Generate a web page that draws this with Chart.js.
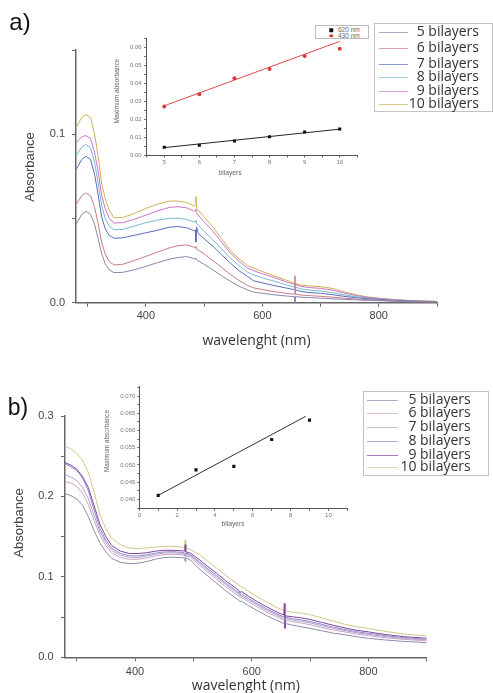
<!DOCTYPE html>
<html><head><meta charset="utf-8">
<script src="https://cdn.jsdelivr.net/npm/chart.js@4.4.1/dist/chart.umd.min.js"></script>
<style>
body{margin:0;background:#fff;}
#wrap{position:relative;width:493px;height:693px;overflow:hidden;background:#fff;}
canvas{position:absolute;}
.t{position:absolute;white-space:nowrap;color:#444;font-family:'Liberation Sans',Arial,sans-serif;line-height:1;}
.rot{transform:translate(-50%,-50%) rotate(-90deg);}
.ctr{transform:translate(-50%,-50%);}
.lg{position:absolute;border:1px solid #c4c4c4;background:#fff;box-sizing:border-box;}
.lg .ln{position:absolute;height:0;border-top:1px solid;}
.lg .tx{position:absolute;font-family:'Open Sans',sans-serif;font-size:14px;color:#333;transform:translateY(-50%);line-height:1;white-space:nowrap;}
.ilg{position:absolute;border:1px solid #bbb;background:#fff;box-sizing:border-box;}
.ilg .it{position:absolute;font-family:'Liberation Sans',Arial,sans-serif;font-size:6.5px;color:#666;line-height:1;transform:translateY(-50%);white-space:nowrap;}
.ilg .mk{position:absolute;transform:translate(-50%,-50%);}
</style></head>
<body>
<div id="wrap">
  <canvas id="mainA" width="493" height="360" style="left:0;top:0"></canvas>
  <canvas id="insetA" width="270" height="160" style="left:100px;top:20px"></canvas>
  <canvas id="mainB" width="493" height="333" style="left:0;top:360px"></canvas>
  <canvas id="insetB" width="270" height="150" style="left:95px;top:375px"></canvas>

  <div class="t ctr" style="left:20px;top:21.5px;font-size:24px;color:#111">a)</div>
  <div class="t ctr" style="left:18px;top:407px;font-size:23px;color:#111">b)</div>

  <div class="t rot" style="left:29px;top:167px;font-size:13px">Absorbance</div>
  <div class="t rot" style="left:18px;top:523px;font-size:13px">Absorbance</div>

  <div class="t rot" style="left:117px;top:91px;font-size:6.6px;color:#666">Maximum absorbance</div>
  <div class="t ctr" style="left:230px;top:173px;font-size:6.7px;color:#666">bilayers</div>
  <div class="t rot" style="left:107px;top:441px;font-size:6.3px;color:#666">Maximum absorbance</div>
  <div class="t ctr" style="left:233px;top:524px;font-size:6.7px;color:#666">bilayers</div>

  <div id="legA" class="lg" style="left:374px;top:23px;width:119px;height:89px"></div>
  <div id="legB" class="lg" style="left:363px;top:391px;width:126px;height:85px"></div>
  <div id="ilegA" class="ilg" style="left:315px;top:25px;width:54px;height:14px"></div>
</div>
<script>
// ---------- data ----------
const seriesNames = ['5 bilayers','6 bilayers','7 bilayers','8 bilayers','9 bilayers','10 bilayers'];

// panel a spectra
const wlA = [280, 290, 297, 305, 312, 318, 324, 330, 337, 345, 360, 380, 400, 420, 440, 455, 470, 482, 485, 486, 487, 490, 500, 515, 530, 545, 560, 575, 585, 600, 620, 640, 655, 656, 657, 665, 680, 700, 720, 740, 760, 780, 800, 830, 860, 900];
const a5 = [0.0463, 0.0525, 0.0542, 0.0525, 0.0465, 0.038, 0.029, 0.0232, 0.0195, 0.0179, 0.018, 0.0195, 0.0215, 0.0238, 0.0258, 0.0268, 0.0274, 0.0262, 0.026, 0.0265, 0.0255, 0.0248, 0.0228, 0.0195, 0.016, 0.0127, 0.0098, 0.0075, 0.0063, 0.0056, 0.0047, 0.004, 0.0036, 0.0, 0.0036, 0.0033, 0.003, 0.0027, 0.0023, 0.002, 0.0017, 0.0014, 0.0012, 0.0008, 0.0005, 0.0003];
const a6 = [0.0582, 0.0635, 0.0651, 0.0635, 0.0565, 0.047, 0.036, 0.029, 0.0245, 0.0224, 0.0228, 0.025, 0.0275, 0.030, 0.0325, 0.0338, 0.0343, 0.033, 0.0325, 0.0335, 0.032, 0.0312, 0.029, 0.025, 0.021, 0.0168, 0.0132, 0.0102, 0.0088, 0.0078, 0.0066, 0.0056, 0.005, 0.016, 0.005, 0.0046, 0.0042, 0.0038, 0.0033, 0.0027, 0.0022, 0.0018, 0.0015, 0.001, 0.0007, 0.0004];
const a7 = [0.079, 0.085, 0.0869, 0.085, 0.076, 0.064, 0.051, 0.044, 0.040, 0.0383, 0.0385, 0.040, 0.0415, 0.043, 0.0448, 0.0452, 0.0445, 0.0428, 0.043, 0.036, 0.045, 0.041, 0.038, 0.0335, 0.0285, 0.0235, 0.019, 0.0155, 0.013, 0.0118, 0.0102, 0.0088, 0.0077, 0.0077, 0.0077, 0.0068, 0.006, 0.0056, 0.0048, 0.0038, 0.003, 0.0024, 0.0019, 0.0013, 0.0009, 0.0005];
const a8 = [0.0869, 0.0925, 0.0939, 0.092, 0.083, 0.071, 0.058, 0.050, 0.0455, 0.0433, 0.0435, 0.0455, 0.0475, 0.049, 0.050, 0.0502, 0.0495, 0.048, 0.048, 0.049, 0.047, 0.046, 0.0425, 0.0375, 0.032, 0.0265, 0.022, 0.018, 0.0165, 0.0148, 0.0128, 0.0107, 0.0092, 0.0092, 0.0092, 0.0083, 0.0075, 0.007, 0.006, 0.0047, 0.0036, 0.0028, 0.0022, 0.0015, 0.001, 0.0006];
const a9 = [0.0949, 0.0985, 0.0992, 0.0975, 0.089, 0.078, 0.064, 0.056, 0.050, 0.0473, 0.0475, 0.0495, 0.052, 0.0545, 0.0565, 0.057, 0.0563, 0.0545, 0.0545, 0.0555, 0.0535, 0.052, 0.048, 0.0425, 0.036, 0.0295, 0.0245, 0.0205, 0.019, 0.0172, 0.015, 0.0125, 0.0108, 0.0108, 0.0108, 0.0098, 0.009, 0.0085, 0.0075, 0.0058, 0.0043, 0.0032, 0.0025, 0.0016, 0.0011, 0.0007];
const a10 = [0.104, 0.110, 0.1117, 0.110, 0.100, 0.087, 0.071, 0.062, 0.055, 0.0505, 0.0505, 0.053, 0.056, 0.0585, 0.0603, 0.0603, 0.0595, 0.0575, 0.058, 0.063, 0.056, 0.055, 0.051, 0.045, 0.038, 0.031, 0.026, 0.022, 0.0205, 0.0185, 0.016, 0.0135, 0.0115, 0.0115, 0.0115, 0.0105, 0.0100, 0.0095, 0.0085, 0.0065, 0.0048, 0.0035, 0.0027, 0.0018, 0.0012, 0.0008];

// panel b spectra
const wlB = [280, 290, 300, 310, 320, 330, 340, 350, 360, 375, 390, 405, 420, 435, 450, 465, 480, 485, 486, 487, 495, 510, 525, 540, 555, 570, 578, 580, 582, 595, 610, 625, 640, 655, 656, 657, 658, 670, 685, 700, 720, 740, 760, 780, 800, 830, 860, 900];
const b5 = [0.2034, 0.201, 0.197, 0.189, 0.175, 0.157, 0.142, 0.131, 0.123, 0.118, 0.1165, 0.117, 0.119, 0.122, 0.124, 0.1245, 0.124, 0.1235, 0.119, 0.1235, 0.121, 0.110, 0.101, 0.092, 0.083, 0.075, 0.071, 0.069, 0.070, 0.064, 0.058, 0.052, 0.047, 0.042, 0.042, 0.042, 0.042, 0.040, 0.038, 0.036, 0.033, 0.030, 0.028, 0.0255, 0.0236, 0.0215, 0.0198, 0.0182];
const b6 = [0.2187, 0.2167, 0.2124, 0.2041, 0.1899, 0.170, 0.1515, 0.1388, 0.1298, 0.124, 0.1218, 0.1219, 0.1236, 0.126, 0.1278, 0.1281, 0.1275, 0.1269, 0.1265, 0.1265, 0.1245, 0.1149, 0.1059, 0.0971, 0.0881, 0.0801, 0.076, 0.074, 0.075, 0.0689, 0.0626, 0.0566, 0.0513, 0.0463, 0.0463, 0.0462, 0.0461, 0.0443, 0.0426, 0.0406, 0.0373, 0.034, 0.0315, 0.0289, 0.0269, 0.0243, 0.0223, 0.0204];
const b7 = [0.227, 0.2242, 0.2198, 0.2114, 0.197, 0.1762, 0.156, 0.1426, 0.133, 0.1268, 0.1243, 0.1242, 0.1258, 0.128, 0.1296, 0.1299, 0.1292, 0.1285, 0.1285, 0.128, 0.1262, 0.1172, 0.1082, 0.0996, 0.0906, 0.0826, 0.0782, 0.0762, 0.077, 0.0712, 0.0648, 0.0588, 0.0534, 0.0484, 0.0484, 0.0483, 0.0482, 0.0464, 0.0448, 0.0428, 0.0394, 0.036, 0.0332, 0.0305, 0.0286, 0.0257, 0.0235, 0.0215];
const b8 = [0.2407, 0.237, 0.2323, 0.223, 0.207, 0.183, 0.160, 0.1455, 0.1355, 0.129, 0.1263, 0.126, 0.1275, 0.1295, 0.131, 0.1313, 0.1305, 0.1298, 0.125, 0.1295, 0.1275, 0.119, 0.110, 0.1015, 0.0925, 0.0845, 0.080, 0.078, 0.079, 0.073, 0.0665, 0.0605, 0.055, 0.050, 0.050, 0.050, 0.0499, 0.048, 0.0465, 0.0445, 0.041, 0.0375, 0.0345, 0.0318, 0.0298, 0.0268, 0.0244, 0.0224];
const b9 = [0.242, 0.239, 0.234, 0.225, 0.211, 0.188, 0.165, 0.150, 0.139, 0.132, 0.129, 0.129, 0.130, 0.132, 0.133, 0.133, 0.1325, 0.132, 0.140, 0.131, 0.1295, 0.1217, 0.1127, 0.1044, 0.0954, 0.0874, 0.083, 0.080, 0.082, 0.0757, 0.069, 0.063, 0.0574, 0.0524, 0.067, 0.036, 0.0515, 0.0504, 0.049, 0.047, 0.0434, 0.0398, 0.0365, 0.0336, 0.0316, 0.0283, 0.0258, 0.0236];
const b10 = [0.262, 0.259, 0.254, 0.245, 0.230, 0.205, 0.177, 0.160, 0.148, 0.140, 0.136, 0.135, 0.136, 0.137, 0.138, 0.138, 0.137, 0.136, 0.146, 0.136, 0.134, 0.128, 0.119, 0.111, 0.102, 0.094, 0.090, 0.088, 0.088, 0.082, 0.075, 0.069, 0.063, 0.058, 0.058, 0.058, 0.058, 0.056, 0.055, 0.053, 0.049, 0.045, 0.041, 0.038, 0.036, 0.032, 0.029, 0.0265];

// inset a
const bilayersA = [5, 6, 7, 8, 9, 10];
const max620 = [0.0043, 0.0054, 0.0078, 0.0102, 0.0128, 0.0145];
const max430 = [0.0270, 0.0339, 0.0428, 0.0479, 0.0551, 0.0592];
const fitXA = [5, 10];
const fit620 = [0.0041, 0.0144];
const fit430 = [0.0274, 0.0633];

// inset b
const bilayersB = [1, 3, 5, 7, 9];
const maxB = [0.0412, 0.0486, 0.0496, 0.0574, 0.0630];
const fitXB = [1, 8.8];
const fitB = [0.0412, 0.0641];

// ticks
const xTicksMain = [300, 400, 500, 600, 700, 800, 900];
const xLabelsMain = [400, 600, 800];
const yTicksA = [0, 0.05, 0.1, 0.15];
const yLabelsA = [0, 0.1];
const yTicksB = [0, 0.05, 0.1, 0.15, 0.2, 0.25, 0.3];
const yLabelsB = [0, 0.1, 0.2, 0.3];
const xTicksInA = [4.5, 5, 5.5, 6, 6.5, 7, 7.5, 8, 8.5, 9, 9.5, 10, 10.5];
const xLabelsInA = [5, 6, 7, 8, 9, 10];
const yTicksInA = [0, 0.005, 0.01, 0.015, 0.02, 0.025, 0.03, 0.035, 0.04, 0.045, 0.05, 0.055, 0.06, 0.065];
const yLabelsInA = [0, 0.01, 0.02, 0.03, 0.04, 0.05, 0.06];
const xTicksInB = [0, 1, 2, 3, 4, 5, 6, 7, 8, 9, 10, 11];
const xLabelsInB = [0, 2, 4, 6, 8, 10];
const yTicksInB = [0.0375, 0.04, 0.0425, 0.045, 0.0475, 0.05, 0.0525, 0.055, 0.0575, 0.06, 0.0625, 0.065, 0.0675, 0.07, 0.0725];
const yLabelsInB = [0.04, 0.045, 0.05, 0.055, 0.06, 0.065, 0.07];

// ---------- styling ----------
const colA = ['#8a86b0', '#cc7a86', '#5a6cb8', '#78b8d0', '#cc72cc', '#c8b455'];
const colB = ['#8c8cae', '#cfa0c4', '#a4aac8', '#9c84c8', '#7e44a2', '#cfc88a'];

Chart.defaults.font.family = "'Liberation Sans', Arial, sans-serif";
Chart.defaults.color = '#444';

const has = (arr, v) => arr.some(a => Math.abs(a - v) < 1e-9);
const pts = (xs, ys) => xs.map((x, i) => ({x: x, y: ys[i]}));

function axis(o) {
  return {
    type: 'linear', min: o.min, max: o.max,
    afterBuildTicks: s => { s.ticks = o.ticks.map(v => ({value: v})); },
    afterFit: s => { if (o.w !== undefined) s.width = o.w; if (o.h !== undefined) s.height = o.h; },
    ticks: {
      autoSkip: false, maxRotation: 0, padding: o.pad, color: o.tc || '#444',
      font: {size: o.fs},
      callback: v => has(o.labels, v) ? o.fmt(v) : ''
    },
    grid: {drawOnChartArea: false, drawTicks: true, tickLength: o.tl, tickColor: o.kc || '#666', color: o.kc || '#666', tickWidth: 1},
    border: {display: true, color: o.bc || '#666', width: o.bw || 1.5},
    title: o.title || {display: false}
  };
}

function baseOpts(padding, scales) {
  return {
    responsive: false, animation: false, devicePixelRatio: 1,
    layout: {padding: padding},
    plugins: {legend: {display: false}, tooltip: {enabled: false}},
    scales: scales
  };
}

// ---------- main a ----------
const seriesA = [a5, a6, a7, a8, a9, a10];
new Chart(document.getElementById('mainA'), {
  type: 'line',
  data: {datasets: seriesA.map((s, i) => ({label: seriesNames[i], data: pts(wlA, s), borderColor: colA[i], borderWidth: 1, pointRadius: 0, tension: 0, fill: false}))},
  options: baseOpts({left: 0, top: 50, right: 56, bottom: 0}, {
    x: axis({min: 280, max: 900, ticks: xTicksMain, labels: xLabelsMain, fmt: v => String(v), pad: 3, fs: 11, tl: 4, h: 57.3,
      title: {display: true, text: 'wavelenght (nm)', color: '#333', font: {family: "'Open Sans', sans-serif", size: 14, lineHeight: 1}, padding: {top: 0, bottom: 12}}}),
    y: axis({min: 0, max: 0.15, ticks: yTicksA, labels: yLabelsA, fmt: v => v.toFixed(1), pad: 7, fs: 11, tl: 4, w: 76})
  })
});

// ---------- main b ----------
const seriesB = [b5, b6, b7, b8, b9, b10];
new Chart(document.getElementById('mainB'), {
  type: 'line',
  data: {datasets: seriesB.map((s, i) => ({label: seriesNames[i], data: pts(wlB, s), borderColor: colB[i], borderWidth: 1, pointRadius: 0, tension: 0, fill: false}))},
  options: baseOpts({left: 0, top: 56, right: 66.3, bottom: 0}, {
    x: axis({min: 280, max: 900, ticks: xTicksMain, labels: xLabelsMain, fmt: v => String(v), pad: 4.5, fs: 11, tl: 4, h: 35.7,
      title: {display: true, text: 'wavelenght (nm)', color: '#333', font: {family: "'Open Sans', sans-serif", size: 14, lineHeight: 1}, padding: {top: 0, bottom: 0}}}),
    y: axis({min: 0, max: 0.3, ticks: yTicksB, labels: yLabelsB, fmt: v => v.toFixed(1), pad: 7.5, fs: 11, tl: 4, w: 65})
  })
});

// ---------- inset a ----------
new Chart(document.getElementById('insetA'), {
  type: 'scatter',
  data: {datasets: [
    {label: '620 nm', data: pts(bilayersA, max620), showLine: false, pointStyle: 'rect', pointRadius: 2.2, backgroundColor: '#111', borderColor: '#111', borderWidth: 0},
    {label: '430 nm', data: pts(bilayersA, max430), showLine: false, pointStyle: 'circle', pointRadius: 2, backgroundColor: '#d83a3a', borderColor: '#d83a3a', borderWidth: 0},
    {label: 'fit 620', data: pts(fitXA, fit620), showLine: true, pointRadius: 0, borderColor: '#222', borderWidth: 1},
    {label: 'fit 430', data: pts(fitXA, fit430), showLine: true, pointRadius: 0, borderColor: '#e04848', borderWidth: 1}
  ]},
  options: baseOpts({left: 0, top: 18.3, right: 12.7, bottom: 0}, {
    x: axis({min: 4.5, max: 10.5, ticks: xTicksInA, labels: xLabelsInA, fmt: v => String(v), pad: 1, fs: 6, tl: 2.5, h: 25, tc: '#777', bw: 1, bc: '#555'}),
    y: axis({min: 0, max: 0.065, ticks: yTicksInA, labels: yLabelsInA, fmt: v => v.toFixed(2), pad: 2.5, fs: 6, tl: 2.5, w: 46.7, tc: '#777', bw: 1, bc: '#555'})
  })
});

// ---------- inset b ----------
new Chart(document.getElementById('insetB'), {
  type: 'scatter',
  data: {datasets: [
    {label: 'max', data: pts(bilayersB, maxB), showLine: false, pointStyle: 'rect', pointRadius: 2.2, backgroundColor: '#111', borderColor: '#111', borderWidth: 0},
    {label: 'fit', data: pts(fitXB, fitB), showLine: true, pointRadius: 0, borderColor: '#333', borderWidth: 1}
  ]},
  options: baseOpts({left: 0, top: 11.7, right: 17.7, bottom: 0}, {
    x: axis({min: 0, max: 11, ticks: xTicksInB, labels: xLabelsInB, fmt: v => String(v), pad: 0.5, fs: 6, tl: 2, h: 16.2, tc: '#777', bw: 1, bc: '#555'}),
    y: axis({min: 0.0373, max: 0.0727, ticks: yTicksInB, labels: yLabelsInB, fmt: v => v.toFixed(3), pad: 2, fs: 6, tl: 2, w: 44.3, tc: '#777', bw: 1, bc: '#555'})
  })
});

// ---------- legends ----------
function buildLegend(id, colors, rowsY, lineX0, lineX1, textRight, boxW) {
  const el = document.getElementById(id);
  seriesNames.forEach((n, i) => {
    const ln = document.createElement('div');
    ln.className = 'ln';
    ln.style.left = lineX0 + 'px';
    ln.style.width = (lineX1 - lineX0) + 'px';
    ln.style.top = (rowsY[i] + 1) + 'px';
    ln.style.borderTopColor = colors[i];
    ln.style.opacity = '0.7';
    el.appendChild(ln);
    const tx = document.createElement('div');
    tx.className = 'tx';
    tx.textContent = n;
    tx.style.right = (boxW - textRight) + 'px';
    tx.style.top = rowsY[i] + 'px';
    el.appendChild(tx);
  });
}
buildLegend('legA', colA, [7, 23, 38.5, 52, 66.3, 79.3], 4, 33, 106, 119);
buildLegend('legB', colB, [7.3, 20, 34.3, 48, 62.3, 74.3], 3, 34, 108.7, 126);

(function () {
  const el = document.getElementById('ilegA');
  const rows = [{t: '620 nm', c: '#111', shape: 'sq', y: 4}, {t: '430 nm', c: '#d83a3a', shape: 'ci', y: 9.5}];
  rows.forEach(r => {
    const m = document.createElement('div');
    m.className = 'mk';
    m.style.left = '15px'; m.style.top = r.y + 'px';
    m.style.width = '3.5px'; m.style.height = '3.5px';
    m.style.background = r.c;
    if (r.shape === 'ci') m.style.borderRadius = '50%';
    el.appendChild(m);
    const t = document.createElement('div');
    t.className = 'it'; t.textContent = r.t;
    t.style.left = '22px'; t.style.top = r.y + 'px';
    el.appendChild(t);
  });
})();
</script>
</body></html>
